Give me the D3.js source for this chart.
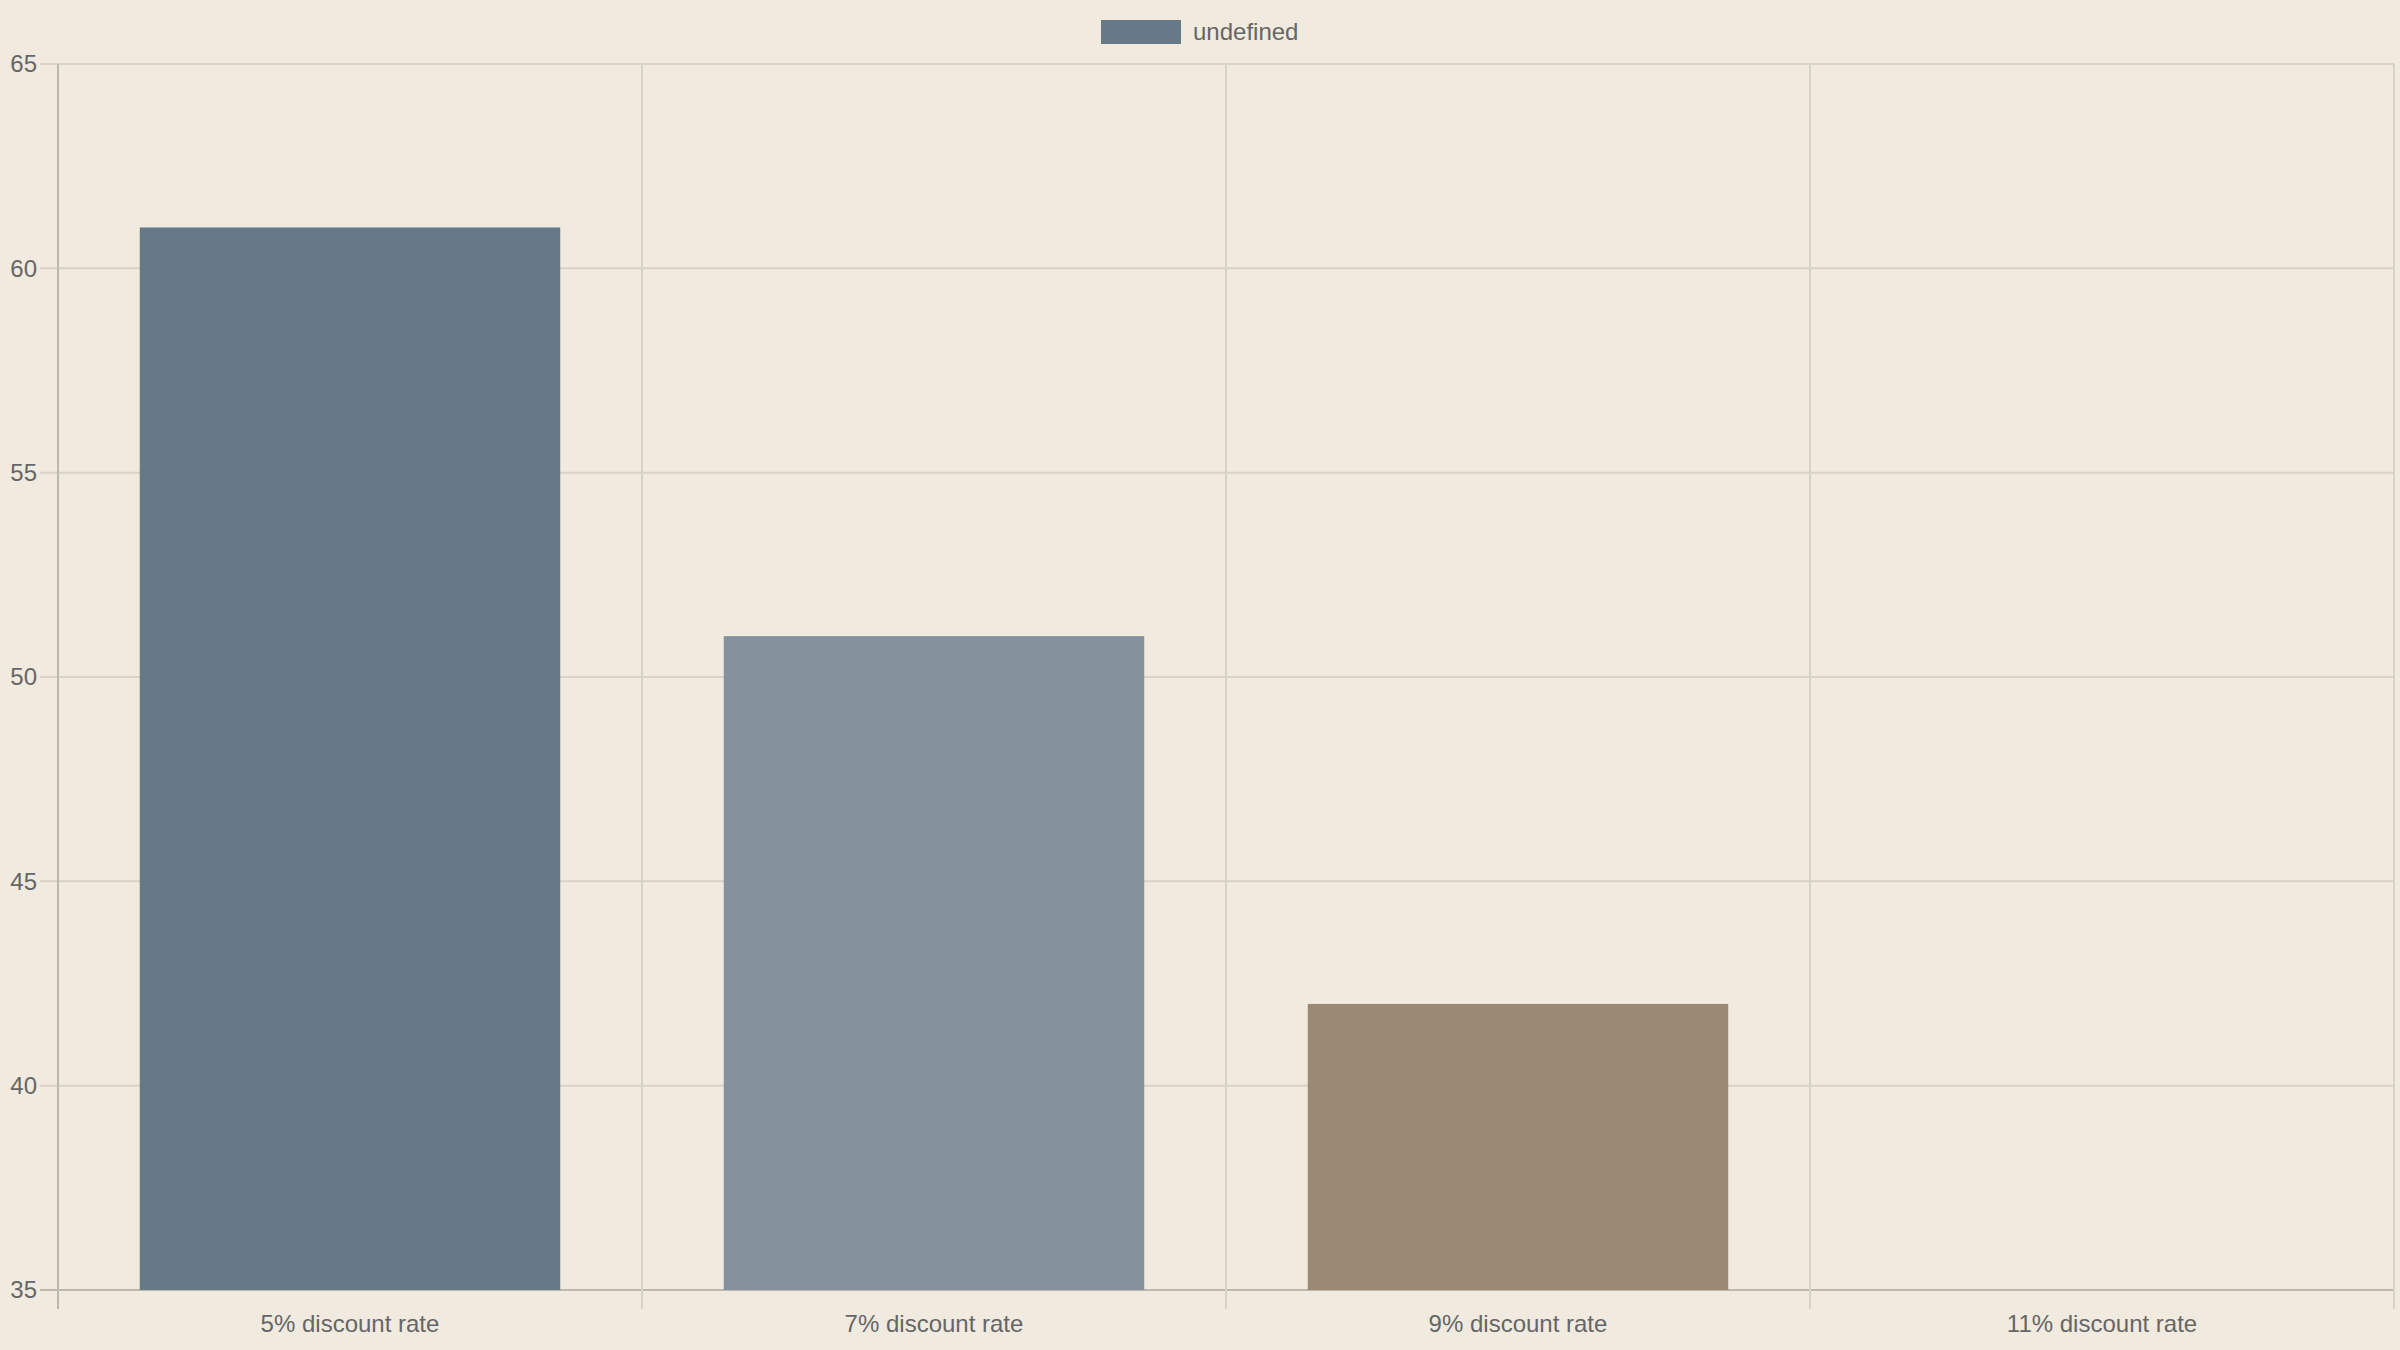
<!DOCTYPE html>
<html>
<head>
<meta charset="utf-8">
<script src="https://cdn.jsdelivr.net/npm/d3@7"></script>
<style>
  html, body { margin: 0; padding: 0; background: #f0eadf; }
  svg { display: block; }
  text { font-family: "Liberation Sans", Arial, Helvetica, sans-serif; fill: #666; }
</style>
</head>
<body>
<svg id="chart" width="2400" height="1350"></svg>
<script>
const categories = ["5% discount rate", "7% discount rate", "9% discount rate", "11% discount rate"];
const values = [61, 51, 42, 33];
const barColors = ["#667987", "#83929c", "#9a8975", "#b5a48c"];
const yTicks = [35, 40, 45, 50, 55, 60, 65];
const legendLabel = "undefined";

const W = 2400, H = 1350;
const margin = { left: 58, right: 6, top: 64, bottom: 60 };
const svg = d3.select("#chart");
svg.append("rect").attr("width", W).attr("height", H).attr("fill", "#f0eadf");

const x = d3.scaleBand().domain(categories).range([margin.left, W - margin.right]).paddingInner(0).paddingOuter(0);
const y = d3.scaleLinear().domain([35, 65]).range([H - margin.bottom, margin.top]);

const gridColor = "#d6d2c6";
const axisColor = "#bdb8ad";
const fontSize = 24;

// horizontal grid + y ticks
const yAxis = d3.axisLeft(y).tickValues(yTicks).tickSize(0).tickFormat(d3.format("d"));
const gy = svg.append("g");
gy.selectAll("line.grid").data(yTicks).enter().append("line")
  .attr("x1", margin.left - 18).attr("x2", W - margin.right)
  .attr("y1", d => y(d)).attr("y2", d => y(d))
  .attr("stroke", d => d === 35 ? axisColor : gridColor).attr("stroke-width", 2);
gy.selectAll("text").data(yTicks).enter().append("text")
  .attr("x", 37).attr("y", d => y(d)).attr("dy", "0.35em")
  .attr("text-anchor", "end").attr("font-size", fontSize)
  .text(d => yAxis.tickFormat()(d));

// vertical grid at category boundaries
const bounds = categories.map(c => x(c)).concat([x(categories[categories.length - 1]) + x.bandwidth()]);
svg.append("g").selectAll("line").data(bounds).enter().append("line")
  .attr("x1", d => d).attr("x2", d => d)
  .attr("y1", margin.top).attr("y2", H - margin.bottom + 19)
  .attr("stroke", (d, i) => i === 0 ? axisColor : gridColor).attr("stroke-width", 2);

// bars
const barW = x.bandwidth() * 0.72;
const yMin = y.domain()[0];
svg.append("g").selectAll("rect").data(values).enter().append("rect")
  .attr("x", (d, i) => x(categories[i]) + (x.bandwidth() - barW) / 2)
  .attr("width", barW)
  .attr("y", d => y(Math.max(d, yMin)))
  .attr("height", d => y(yMin) - y(Math.max(d, yMin)))
  .attr("fill", (d, i) => barColors[i]);

// x labels
svg.append("g").selectAll("text").data(categories).enter().append("text")
  .attr("x", d => x(d) + x.bandwidth() / 2)
  .attr("y", 1324).attr("dy", "0.35em")
  .attr("text-anchor", "middle").attr("font-size", fontSize)
  .text(d => d);

// legend
const lg = svg.append("g");
lg.append("rect").attr("x", 1101).attr("y", 20).attr("width", 80).attr("height", 24).attr("fill", barColors[0]);
lg.append("text").attr("x", 1193).attr("y", 32).attr("dy", "0.35em").attr("font-size", fontSize).text(legendLabel);
</script>
</body>
</html>
